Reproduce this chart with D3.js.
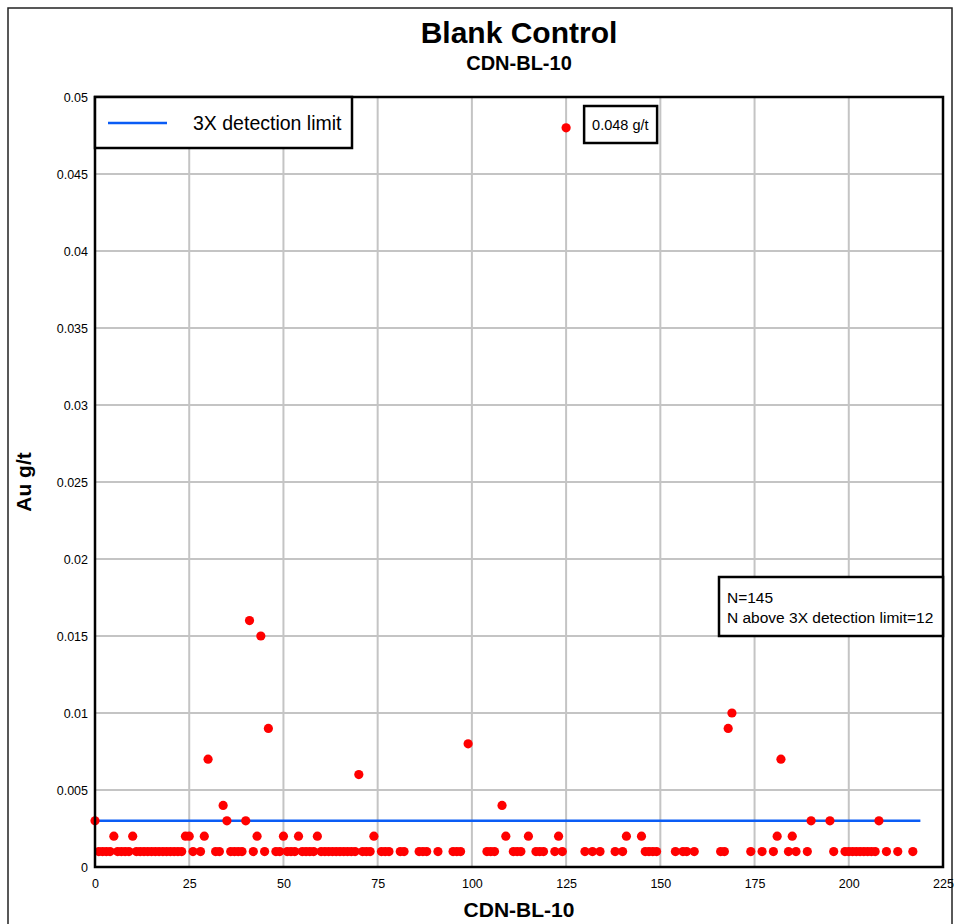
<!DOCTYPE html>
<html><head><meta charset="utf-8">
<script src="https://cdn.jsdelivr.net/npm/d3@7"></script>
<style>body{margin:0;background:#fff;font-family:"Liberation Sans",Arial,sans-serif}</style>
</head><body><svg id="c" width="961" height="924"></svg>
<script>
// Sample sequence numbers and Au values (g/t)
const sampleX = [0,1,2,3,4,5,6,7,8,9,10,11,12,13,14,15,16,17,18,19,20,21,22,23,24,25,26,28,29,30,32,33,34,35,36,37,38,39,40,41,42,43,44,45,46,
48,49,50,51,52,53,54,55,56,57,58,59,60,61,62,63,64,65,66,67,68,69,70,71,72,73,74,76,77,78,81,82,86,87,88,91,95,96,97,99,104,105,106,108,109,
111,112,113,115,117,118,119,122,123,124,125,130,132,134,138,140,141,145,146,147,148,149,154,156,157,159,166,167,168,169,174,177,180,181,182,
184,185,186,189,190,195,196,199,200,201,202,203,204,205,206,207,208,210,213,217];
const auValues = [0.003,0.001,0.001,0.001,0.001,0.002,0.001,0.001,0.001,0.001,0.002,0.001,0.001,0.001,0.001,0.001,0.001,0.001,0.001,0.001,0.001,0.001,0.001,0.001,0.002,0.002,0.001,0.001,0.002,0.007,0.001,0.001,0.004,0.003,0.001,0.001,0.001,0.001,0.003,0.016,0.001,0.002,0.015,0.001,0.009,
0.001,0.001,0.002,0.001,0.001,0.001,0.002,0.001,0.001,0.001,0.001,0.002,0.001,0.001,0.001,0.001,0.001,0.001,0.001,0.001,0.001,0.001,0.006,0.001,0.001,0.001,0.002,0.001,0.001,0.001,0.001,0.001,0.001,0.001,0.001,0.001,0.001,0.001,0.001,0.008,0.001,0.001,0.001,0.004,0.002,
0.001,0.001,0.001,0.002,0.001,0.001,0.001,0.001,0.002,0.001,0.048,0.001,0.001,0.001,0.001,0.001,0.002,0.002,0.001,0.001,0.001,0.001,0.001,0.001,0.001,0.001,0.001,0.001,0.009,0.010,0.001,0.001,0.001,0.002,0.007,
0.001,0.002,0.001,0.001,0.003,0.003,0.001,0.001,0.001,0.001,0.001,0.001,0.001,0.001,0.001,0.001,0.003,0.001,0.001,0.001];
const limitValue = 0.003;
const limitRange = [0, 219];
const xTicks = [0,25,50,75,100,125,150,175,200,225];
const yTicks = [0,0.005,0.01,0.015,0.02,0.025,0.03,0.035,0.04,0.045,0.05];
const titleText = "Blank Control", subtitleText = "CDN-BL-10";
const xLabel = "CDN-BL-10", yLabel = "Au g/t";
const legendText = "3X detection limit";
const maxNote = "0.048 g/t";
const statLines = ["N=145", "N above 3X detection limit=12"];

const svg = d3.select("#c");
const m = {l:95, t:97, r:943, b:867};
const x = d3.scaleLinear().domain([0,225]).range([m.l, m.r]);
const y = d3.scaleLinear().domain([0,0.05]).range([m.b, m.t]);

// outer frame
svg.append("rect").attr("x",8).attr("y",8).attr("width",944).attr("height",930)
  .attr("fill","#fff").attr("stroke","#222").attr("stroke-width",1.5);

// grid
svg.append("g").selectAll("line").data(xTicks.slice(1,-1)).join("line")
  .attr("x1",d=>x(d)).attr("x2",d=>x(d)).attr("y1",m.t).attr("y2",m.b)
  .attr("stroke","#c4c4c4").attr("stroke-width",2);
svg.append("g").selectAll("line").data(yTicks.slice(1,-1)).join("line")
  .attr("x1",m.l).attr("x2",m.r).attr("y1",d=>y(d)).attr("y2",d=>y(d))
  .attr("stroke","#c4c4c4").attr("stroke-width",2);

// axes labels
const xa = svg.append("g").attr("transform",`translate(0,${m.b})`)
  .call(d3.axisBottom(x).tickValues(xTicks).tickSize(0).tickPadding(12).tickFormat(d3.format("d")));
xa.select(".domain").remove();
xa.selectAll("text").attr("font-size",12.5).attr("fill","#000").attr("font-family","Liberation Sans, Arial");
const ya = svg.append("g").attr("transform",`translate(${m.l},0)`)
  .call(d3.axisLeft(y).tickValues(yTicks).tickSize(0).tickPadding(7).tickFormat(d=>d===0?"0":String(+d.toFixed(3))));
ya.select(".domain").remove();
ya.selectAll("text").attr("font-size",12.5).attr("fill","#000").attr("font-family","Liberation Sans, Arial");

// detection limit line
svg.append("line").attr("x1",x(limitRange[0])).attr("x2",x(limitRange[1]))
  .attr("y1",y(limitValue)).attr("y2",y(limitValue))
  .attr("stroke","#0a5cf5").attr("stroke-width",2.5);

// points
svg.append("g").selectAll("circle").data(sampleX.map((d,i)=>[d,auValues[i]])).join("circle")
  .attr("cx",d=>x(d[0])).attr("cy",d=>y(d[1])).attr("r",4.6).attr("fill","#ff0000");

// plot border
svg.append("rect").attr("x",m.l).attr("y",m.t).attr("width",m.r-m.l).attr("height",m.b-m.t)
  .attr("fill","none").attr("stroke","#000").attr("stroke-width",2.5);

// legend
svg.append("rect").attr("x",m.l).attr("y",m.t).attr("width",257).attr("height",51)
  .attr("fill","#fff").attr("stroke","#000").attr("stroke-width",2.5);
svg.append("line").attr("x1",108).attr("x2",167).attr("y1",123).attr("y2",123)
  .attr("stroke","#0a5cf5").attr("stroke-width",2.5);
svg.append("text").attr("x",193).attr("y",130).attr("font-size",19.5).text(legendText);

// max note
const mx = sampleX[auValues.indexOf(d3.max(auValues))];
svg.append("rect").attr("x",x(mx)+18).attr("y",106).attr("width",73).attr("height",37)
  .attr("fill","#fff").attr("stroke","#000").attr("stroke-width",2.5);
svg.append("text").attr("x",x(mx)+26).attr("y",130).attr("font-size",14.5).text(maxNote);

// stats box
svg.append("rect").attr("x",719).attr("y",577).attr("width",m.r-719).attr("height",59)
  .attr("fill","#fff").attr("stroke","#000").attr("stroke-width",2.5);
svg.append("g").selectAll("text").data(statLines).join("text")
  .attr("x",727).attr("y",(d,i)=>603+i*20).attr("font-size",15.5).text(d=>d);

// titles
svg.append("text").attr("x",(m.l+m.r)/2).attr("y",43).attr("text-anchor","middle")
  .attr("font-size",30).attr("font-weight","bold").text(titleText);
svg.append("text").attr("x",(m.l+m.r)/2).attr("y",70).attr("text-anchor","middle")
  .attr("font-size",20).attr("font-weight","bold").text(subtitleText);
svg.append("text").attr("x",(m.l+m.r)/2).attr("y",917).attr("text-anchor","middle")
  .attr("font-size",21).attr("font-weight","bold").text(xLabel);
svg.append("text").attr("transform",`translate(31,${(m.t+m.b)/2}) rotate(-90)`).attr("text-anchor","middle")
  .attr("font-size",21).attr("font-weight","bold").text(yLabel);
</script></body></html>
